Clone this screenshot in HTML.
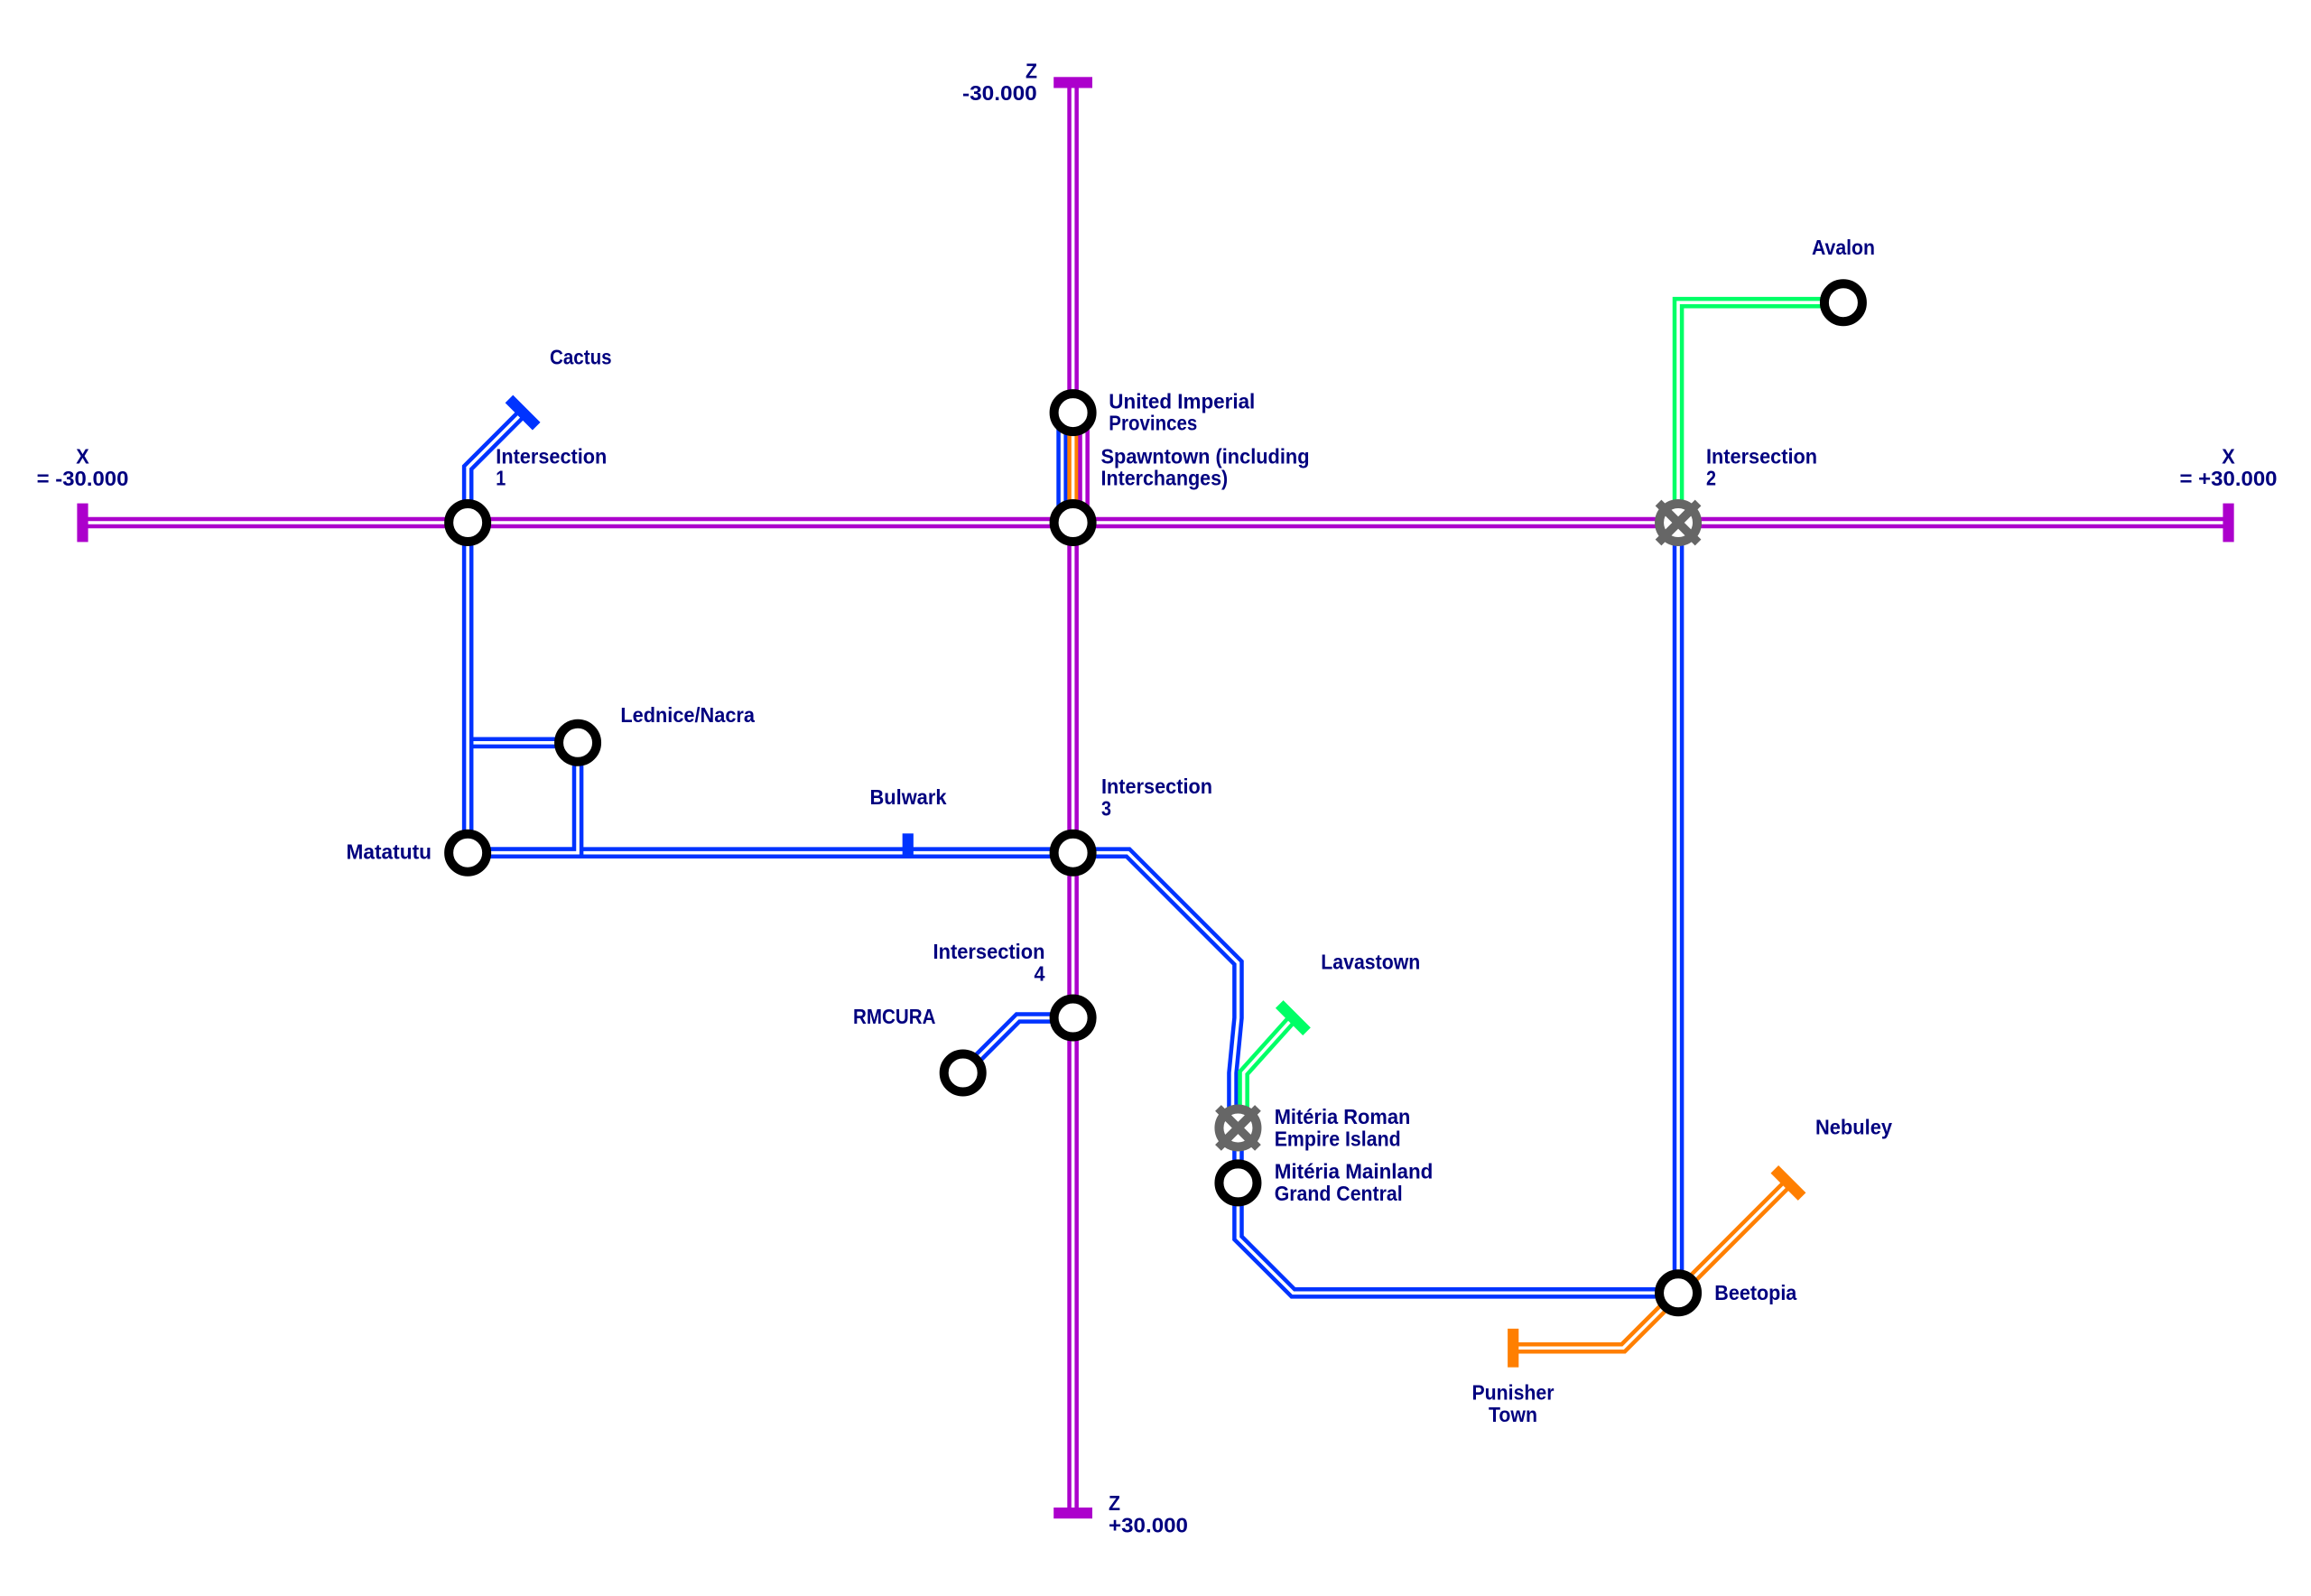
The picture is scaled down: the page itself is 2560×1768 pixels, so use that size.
<!DOCTYPE html>
<html>
<head>
<meta charset="utf-8">
<style>
html,body{margin:0;padding:0;background:#fff}
svg{display:block}
text{font-family:"Liberation Sans",sans-serif;font-weight:bold;font-size:23px;fill:#00007f}
.o{fill:none;stroke-width:12.6;stroke-linejoin:miter;stroke-miterlimit:10}
.w{fill:none;stroke:#fff;stroke-width:3.6;stroke-linejoin:miter;stroke-miterlimit:10}
.p{stroke:#ac00cc}.b{stroke:#0033ff}.g{stroke:#00ff66}.r{stroke:#ff7f00}
.st{fill:#fff;stroke:#000;stroke-width:10}
.xr{fill:#fff;stroke:#666;stroke-width:10}
.xc{stroke:#666;stroke-width:9.5;fill:none}
</style>
</head>
<body>
<svg width="2560" height="1768" viewBox="0 0 2560 1768" xmlns="http://www.w3.org/2000/svg">
<rect width="2560" height="1768" fill="#fff"/>

<!-- Blue lines -->
<g>
<path class="o b" d="M518.15 822.8H640.05"/><path class="w" d="M518.15 822.8H640.05"/>
<path class="o b" d="M518.15 579V518.05L579.1 457.1"/><path class="w" d="M518.15 579V518.05L579.1 457.1"/>
<path class="o b" d="M518.15 579V944.7"/><path class="w" d="M518.15 579V944.7"/>
<path class="o b" d="M518.15 944.7H1188.6"/><path class="w" d="M518.15 944.7H1188.6"/>
<path class="o b" d="M518.15 944.7H640.05V822.8"/><path class="w" d="M518.15 944.7H640.05V822.8"/>
<path class="o b" d="M1188.6 944.7H1249.55L1371.45 1066.6V1127.55L1365.5 1188.5V1249.45"/><path class="w" d="M1188.6 944.7H1249.55L1371.45 1066.6V1127.55L1365.5 1188.5V1249.45"/>
<path class="o b" d="M1371.45 1249.45V1371.35L1432.4 1432.3H1859.05"/><path class="w" d="M1371.45 1249.45V1371.35L1432.4 1432.3H1859.05"/>
<path class="o b" d="M1859.05 579V1432.3"/><path class="w" d="M1859.05 579V1432.3"/>
<path class="o b" d="M1188.6 1127.55H1127.65L1066.7 1188.5"/><path class="w" d="M1188.6 1127.55H1127.65L1066.7 1188.5"/>
<path class="o b" d="M1176.6 457.1V579"/><path class="w" d="M1176.6 457.1V579"/>
</g>

<!-- Green lines -->
<path class="o g" d="M1859.05 579V335.2H2041.9"/><path class="w" d="M1859.05 579V335.2H2041.9"/>
<path class="o g" d="M1377.6 1249.45V1188.5L1432.4 1127.55"/><path class="w" d="M1377.6 1249.45V1188.5L1432.4 1127.55"/>

<!-- Orange lines -->
<path class="o r" d="M1188.6 457.1V579"/><path class="w" d="M1188.6 457.1V579"/>
<path class="o r" d="M1980.95 1310.4L1798.1 1493.25H1676.2"/><path class="w" d="M1980.95 1310.4L1798.1 1493.25H1676.2"/>

<!-- Purple lines -->
<path class="o p" d="M1200.6 457.1V579"/><path class="w" d="M1200.6 457.1V579"/>
<path class="o p" d="M1188.6 91.4V457.1"/><path class="w" d="M1188.6 91.4V457.1"/>
<path class="o p" d="M1188.6 579V1676.1"/><path class="w" d="M1188.6 579V1676.1"/>
<path class="o p" d="M91.5 579H2468.55"/><path class="w" d="M91.5 579H2468.55"/>

<!-- Terminals -->
<rect x="85.4" y="557.6" width="12.2" height="42.8" fill="#ac00cc"/>
<rect x="2462.45" y="557.6" width="12.2" height="42.8" fill="#ac00cc"/>
<rect x="1167.2" y="85.3" width="42.8" height="12.2" fill="#ac00cc"/>
<rect x="1167.2" y="1670" width="42.8" height="12.2" fill="#ac00cc"/>
<rect x="-21.4" y="-6.1" width="42.8" height="12.2" fill="#0033ff" transform="translate(579.1 457.1) rotate(45)"/>
<rect x="999.65" y="923.3" width="12.2" height="27.5" fill="#0033ff"/>
<rect x="-21.4" y="-6.1" width="42.8" height="12.2" fill="#00ff66" transform="translate(1432.4 1127.55) rotate(45)"/>
<rect x="-21.4" y="-6.1" width="42.8" height="12.2" fill="#ff7f00" transform="translate(1980.95 1310.4) rotate(45)"/>
<rect x="1670.1" y="1471.85" width="12.2" height="42.8" fill="#ff7f00"/>

<!-- Stations -->
<circle class="st" cx="518.15" cy="579" r="21"/>
<circle class="st" cx="1188.6" cy="457.1" r="21"/>
<circle class="st" cx="1188.6" cy="579" r="21"/>
<circle class="st" cx="2041.9" cy="335.2" r="21"/>
<circle class="st" cx="640.05" cy="822.8" r="21"/>
<circle class="st" cx="518.15" cy="944.7" r="21"/>
<circle class="st" cx="1188.6" cy="944.7" r="21"/>
<circle class="st" cx="1188.6" cy="1127.55" r="21"/>
<circle class="st" cx="1066.7" cy="1188.5" r="21"/>
<circle class="st" cx="1371.45" cy="1310.4" r="21"/>
<circle class="st" cx="1859.05" cy="1432.3" r="21"/>

<!-- Interchange stations -->
<g transform="translate(1859.05 579)">
<circle class="xr" r="21"/>
<path class="xc" d="M-22 -22L22 22M-22 22L22 -22"/>
</g>
<g transform="translate(1371.45 1249.45)">
<circle class="xr" r="21"/>
<path class="xc" d="M-22 -22L22 22M-22 22L22 -22"/>
</g>

<!-- Labels -->
<text x="84.2" y="513.3" textLength="14.5" lengthAdjust="spacingAndGlyphs">X</text>
<text x="40.7" y="538" textLength="101.7" lengthAdjust="spacingAndGlyphs">= -30.000</text>
<text x="2461.3" y="513.3" textLength="14.5" lengthAdjust="spacingAndGlyphs">X</text>
<text x="2414.5" y="538" textLength="108" lengthAdjust="spacingAndGlyphs">= +30.000</text>
<text x="1136" y="86.7" textLength="13" lengthAdjust="spacingAndGlyphs">Z</text>
<text x="1066" y="111" textLength="82.7" lengthAdjust="spacingAndGlyphs">-30.000</text>
<text x="1228" y="1673" textLength="13" lengthAdjust="spacingAndGlyphs">Z</text>
<text x="1228" y="1697.5" textLength="88" lengthAdjust="spacingAndGlyphs">+30.000</text>

<text x="1228.3" y="452.3" textLength="162" lengthAdjust="spacingAndGlyphs">United Imperial</text>
<text x="1228.3" y="476.7" textLength="98" lengthAdjust="spacingAndGlyphs">Provinces</text>
<text x="1219.5" y="513.3" textLength="231" lengthAdjust="spacingAndGlyphs">Spawntown (including</text>
<text x="1219.5" y="537.7" textLength="140.7" lengthAdjust="spacingAndGlyphs">Interchanges)</text>

<text x="549.3" y="513.3" textLength="123" lengthAdjust="spacingAndGlyphs">Intersection</text>
<text x="549.3" y="537.7" textLength="11" lengthAdjust="spacingAndGlyphs">1</text>
<text x="1890" y="513.3" textLength="123" lengthAdjust="spacingAndGlyphs">Intersection</text>
<text x="1890" y="537.7" textLength="11" lengthAdjust="spacingAndGlyphs">2</text>
<text x="1220" y="879" textLength="123" lengthAdjust="spacingAndGlyphs">Intersection</text>
<text x="1220" y="903.3" textLength="11" lengthAdjust="spacingAndGlyphs">3</text>
<text x="1033.5" y="1062" textLength="124" lengthAdjust="spacingAndGlyphs">Intersection</text>
<text x="1145.5" y="1086.5" textLength="12" lengthAdjust="spacingAndGlyphs">4</text>

<text x="609" y="403.5" textLength="68.6" lengthAdjust="spacingAndGlyphs">Cactus</text>
<text x="2007" y="282" textLength="70" lengthAdjust="spacingAndGlyphs">Avalon</text>
<text x="687.4" y="800" textLength="148.6" lengthAdjust="spacingAndGlyphs">Lednice/Nacra</text>
<text x="383.5" y="951.5" textLength="94.5" lengthAdjust="spacingAndGlyphs">Matatutu</text>
<text x="963.5" y="891" textLength="85" lengthAdjust="spacingAndGlyphs">Bulwark</text>
<text x="945" y="1134" textLength="91.5" lengthAdjust="spacingAndGlyphs">RMCURA</text>
<text x="1463.3" y="1073.5" textLength="110" lengthAdjust="spacingAndGlyphs">Lavastown</text>
<text x="1411.7" y="1245" textLength="150.7" lengthAdjust="spacingAndGlyphs">Mitéria Roman</text>
<text x="1411.7" y="1269.3" textLength="140" lengthAdjust="spacingAndGlyphs">Empire Island</text>
<text x="1411.7" y="1305.7" textLength="175.7" lengthAdjust="spacingAndGlyphs">Mitéria Mainland</text>
<text x="1411.7" y="1330" textLength="142" lengthAdjust="spacingAndGlyphs">Grand Central</text>
<text x="1899.3" y="1440" textLength="91" lengthAdjust="spacingAndGlyphs">Beetopia</text>
<text x="2011" y="1256.5" textLength="85" lengthAdjust="spacingAndGlyphs">Nebuley</text>
<text x="1630.5" y="1550.5" textLength="91" lengthAdjust="spacingAndGlyphs">Punisher</text>
<text x="1649" y="1575" textLength="54" lengthAdjust="spacingAndGlyphs">Town</text>
</svg>
</body>
</html>
